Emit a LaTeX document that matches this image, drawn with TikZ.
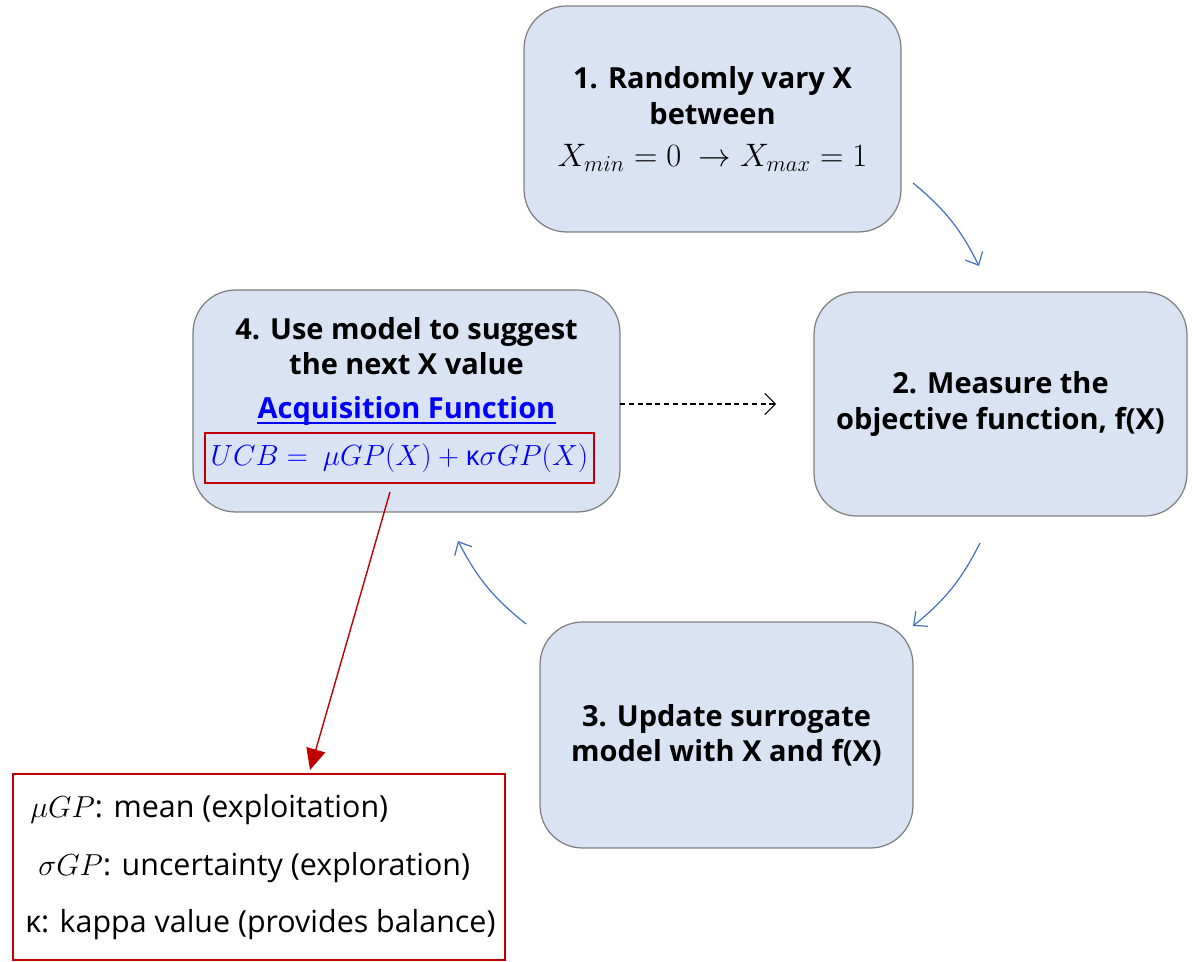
\documentclass[tikz,border=0pt]{standalone}
\usepackage{fontspec}
\setmainfont{Open Sans}
\usetikzlibrary{arrows.meta}
\definecolor{boxfill}{HTML}{DAE3F3}
\definecolor{boxline}{HTML}{7F7F7F}
\definecolor{flow}{HTML}{4472C4}
\definecolor{darkred}{HTML}{C00000}
\definecolor{linkblue}{HTML}{0000FF}
\tikzset{
  stepbox/.style={draw=boxline, line width=0.7pt, fill=boxfill, rounded corners=0.85cm, align=center,
    font=\fontsize{16.5}{20}\selectfont\bfseries, inner sep=0pt},
  flowarrow/.style={draw=flow, line width=0.7pt, -{Straight Barb[length=6pt,width=11pt]}, bend left=12},
  txt/.style={inner sep=0pt, align=center},
  legtxt/.style={inner sep=0pt, anchor=west, font=\fontsize{17.3}{19}\selectfont}
}
\begin{document}
\begin{tikzpicture}[x=0.02cm,y=-0.02cm]
\useasboundingbox (0,0) rectangle (1192,962);
% boxes
\node[stepbox, minimum width=7.54cm, minimum height=4.52cm] (b1) at (712.5,119)
  {1. Randomly vary X\\between\\[4pt] {\mdseries\fontsize{17}{19}\selectfont\scalebox{1.07}{$X_{min}=0\ \rightarrow X_{max}=1$}}};
\node[stepbox, minimum width=7.46cm, minimum height=4.48cm] (b2) at (1000.5,404)
  {2. Measure the\\objective function, f(X)};
\node[stepbox, minimum width=7.46cm, minimum height=4.52cm] (b3) at (726.5,735)
  {3. Update surrogate\\model with X and f(X)};
\node[stepbox, minimum width=8.54cm, minimum height=4.44cm] (b4) at (406.5,401) {};
\node[txt, font=\fontsize{16.5}{20}\selectfont\bfseries] (t4) at (406.5,346)
  {4. Use model to suggest\\the next X value};
\node[txt, font=\fontsize{16.5}{20}\selectfont\bfseries, text=linkblue] (acq) at (406.5,411)
  {Acquisition Function};
\draw[linkblue, line width=1.1pt] ([yshift=-2.5pt]acq.base west) -- ([yshift=-2.5pt]acq.base east);
\node[draw=darkred, line width=1.1pt, minimum width=7.78cm, minimum height=1.0cm, inner sep=0pt,
  text=linkblue, font=\fontsize{16}{19}\selectfont] (ucb) at (399.5,458)
  {\scalebox{0.96}{$UCB=\ \mu GP(X)+\mbox{\normalfont κ}\sigma GP(X)$}};
% legend
\node[draw=darkred, line width=1.1pt, minimum width=9.84cm, minimum height=3.72cm, inner sep=0pt] (leg) at (259,867) {};
\node[legtxt] (l1) at (30,810) {$\mu GP$: mean (exploitation)};
\node[legtxt] (l2) at (38,868) {$\sigma GP$: uncertainty (exploration)};
\node[legtxt] (l3) at (25,925) {κ: kappa value (provides balance)};
% connector endpoints
\coordinate (a1s) at (913,183);
\coordinate (a1e) at (979,266);
\coordinate (a2s) at (980,543);
\coordinate (a2e) at (913,626);
\coordinate (a3s) at (526,624);
\coordinate (a3e) at (458,541);
\coordinate (rs) at (390,492);
\coordinate (re) at (310,770);
\coordinate (ds) at (620,404);
\coordinate (de) at (776,404);
\draw[flowarrow] (a1s) to (a1e);
\draw[flowarrow] (a2s) to (a2e);
\draw[flowarrow] (a3s) to (a3e);
\draw[darkred, line width=0.8pt, -{Triangle[length=12pt,width=11pt]}] (rs) -- (re);
\draw[black, line width=0.6pt, dashed, dash pattern=on 3pt off 2pt, -{Straight Barb[length=6pt,width=12pt]}] (ds) -- (de);
\end{tikzpicture}
\end{document}
